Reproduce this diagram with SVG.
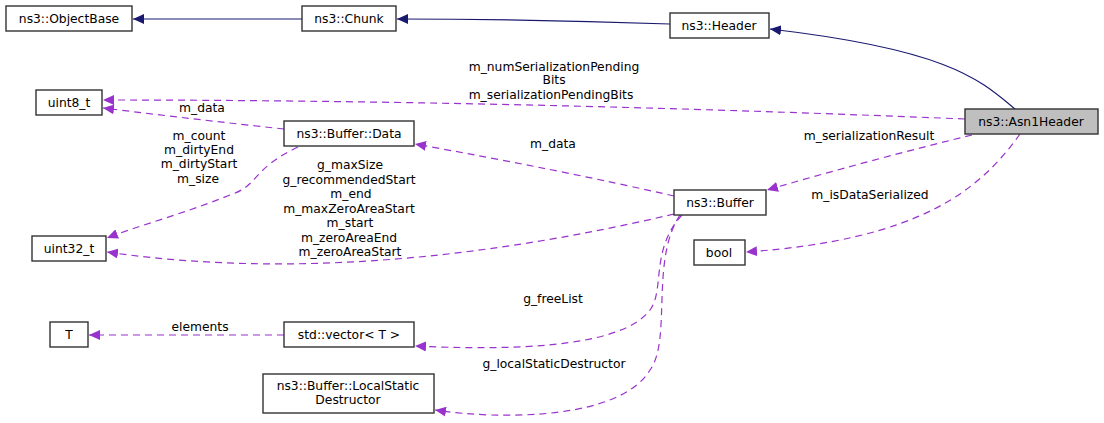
<svg xmlns="http://www.w3.org/2000/svg" width="1104" height="423" viewBox="0 0 1104 423">
<defs>
<style>
.n rect{fill:#fff;stroke:#333;stroke-width:1.4}
text{font-family:"DejaVu Sans",sans-serif;font-size:12.3px;fill:#000}
.c{text-anchor:middle}
.inh{fill:none;stroke:#191970;stroke-width:1.2}
.use{fill:none;stroke:#9a32cd;stroke-width:1.2;stroke-dasharray:7,5}
</style>
<marker id="ai" markerWidth="12" markerHeight="10" refX="11" refY="5" orient="auto" markerUnits="userSpaceOnUse"><path d="M11,5 L0,0 L0,10 Z" fill="#191970"/></marker>
<marker id="au" markerWidth="12" markerHeight="10" refX="11" refY="5" orient="auto" markerUnits="userSpaceOnUse"><path d="M11,5 L0,0 L0,10 Z" fill="#9a32cd"/></marker>
</defs>
<rect width="1104" height="423" fill="#fff"/>
<g id="connectors">
<path class="inh" d="M302,19 H133" marker-end="url(#ai)"/>
<path class="inh" d="M670,24 Q530,19 397,19" marker-end="url(#ai)"/>
<path class="inh" d="M1015,109 C980,80 950,50 770,29" marker-end="url(#ai)"/>
<path class="use" d="M965,119 Q500,100 103,100" marker-end="url(#au)"/>
<path class="use" d="M284,129 Q200,120 103,108" marker-end="url(#au)"/>
<path class="use" d="M298,147 C250,170 260,185 230,195 C180,215 140,225 107,238" marker-end="url(#au)"/>
<path class="use" d="M972,135 Q870,160 767,190" marker-end="url(#au)"/>
<path class="use" d="M674,196 Q560,170 415,144" marker-end="url(#au)"/>
<path class="use" d="M674,214 C500,255 300,280 107,252" marker-end="url(#au)"/>
<path class="use" d="M1020,134 C980,190 920,240 746,252" marker-end="url(#au)"/>
<path class="use" d="M682,215 C650,250 665,290 650,310 C620,350 500,350 415,346" marker-end="url(#au)"/>
<path class="use" d="M680,215 C650,260 672,340 650,370 C620,420 500,420 435,410" marker-end="url(#au)"/>
<path class="use" d="M284,335 H89" marker-end="url(#au)"/>
</g>
<g id="labels">
<text class="c" x="554" y="71">m_numSerializationPending</text>
<text class="c" x="554" y="84">Bits</text>
<text class="c" x="551" y="99">m_serializationPendingBits</text>
<text class="c" x="202" y="112">m_data</text>
<text class="c" x="199" y="140">m_count</text>
<text class="c" x="199" y="154">m_dirtyEnd</text>
<text class="c" x="199" y="168">m_dirtyStart</text>
<text class="c" x="198" y="183">m_size</text>
<text class="c" x="350" y="169">g_maxSize</text>
<text class="c" x="349" y="184">g_recommendedStart</text>
<text class="c" x="351" y="198">m_end</text>
<text class="c" x="349" y="213">m_maxZeroAreaStart</text>
<text class="c" x="350" y="227">m_start</text>
<text class="c" x="349" y="242">m_zeroAreaEnd</text>
<text class="c" x="350" y="256">m_zeroAreaStart</text>
<text class="c" x="553" y="148">m_data</text>
<text class="c" x="869" y="140">m_serializationResult</text>
<text class="c" x="870" y="199">m_isDataSerialized</text>
<text class="c" x="553" y="303">g_freeList</text>
<text class="c" x="200" y="331">elements</text>
<text class="c" x="554" y="368">g_localStaticDestructor</text>
</g>
<g id="ObjectBase" class="n"><rect x="6" y="6" width="126" height="25"/><text class="c" x="69" y="23">ns3::ObjectBase</text></g>
<g id="Chunk" class="n"><rect x="302" y="6" width="94" height="25"/><text class="c" x="349" y="23">ns3::Chunk</text></g>
<g id="Header" class="n"><rect x="670" y="13" width="99" height="25"/><text class="c" x="719" y="30">ns3::Header</text></g>
<g id="Asn1Header" class="n"><rect x="965" y="109" width="133" height="25" style="fill:#bfbfbf"/><text class="c" x="1031" y="126">ns3::Asn1Header</text></g>
<g id="uint8_t" class="n"><rect x="36" y="90" width="66" height="25"/><text class="c" x="69" y="107">uint8_t</text></g>
<g id="BufferData" class="n"><rect x="284" y="121" width="130" height="25"/><text class="c" x="349" y="138">ns3::Buffer::Data</text></g>
<g id="uint32_t" class="n"><rect x="32" y="236" width="74" height="25"/><text class="c" x="69" y="253">uint32_t</text></g>
<g id="Buffer" class="n"><rect x="674" y="190" width="92" height="25"/><text class="c" x="720" y="207">ns3::Buffer</text></g>
<g id="bool" class="n"><rect x="694" y="240" width="51" height="25"/><text class="c" x="719" y="257">bool</text></g>
<g id="T" class="n"><rect x="50" y="322" width="38" height="25"/><text class="c" x="69" y="339">T</text></g>
<g id="vector" class="n"><rect x="284" y="322" width="130" height="25"/><text class="c" x="349" y="339">std::vector&lt; T &gt;</text></g>
<g id="LocalStaticDestructor" class="n"><rect x="263" y="374" width="171" height="39"/><text class="c" x="348" y="390">ns3::Buffer::LocalStatic</text><text class="c" x="348" y="404">Destructor</text></g>
</svg>
